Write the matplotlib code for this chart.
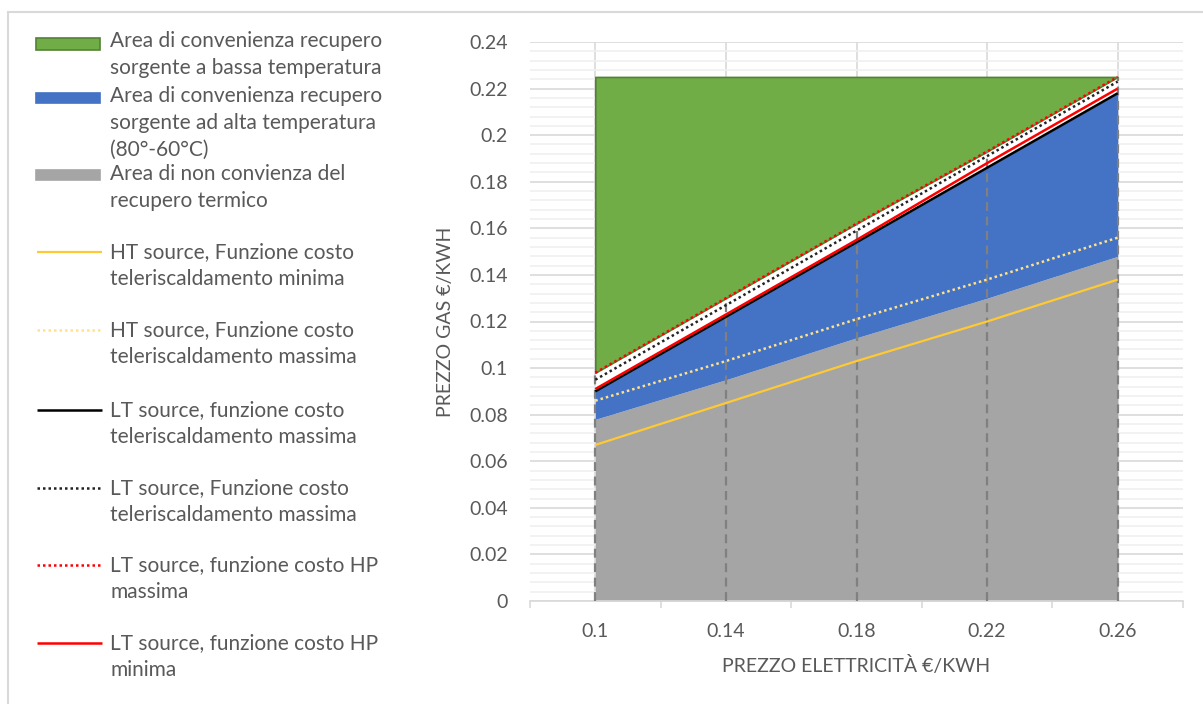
import numpy as np
import matplotlib
matplotlib.use("Agg")
import matplotlib.pyplot as plt
from matplotlib.lines import Line2D
from matplotlib.patches import Rectangle
from matplotlib.ticker import MultipleLocator, FixedLocator, NullFormatter

plt.rcParams['font.family'] = ['Lato', 'DejaVu Sans']

# prezzo elettricità (€/kWh) sulle categorie dell'asse x
prezzo_el = ['0.1', '0.14', '0.18', '0.22', '0.26']

# aree impilate
area_non_conv = [0.078, 0.095, 0.113, 0.130, 0.148]      # limite superiore area grigia
area_alta_temp = [0.090, 0.122, 0.154, 0.186, 0.218]     # limite superiore area blu
area_bassa_temp_top = [0.225, 0.225, 0.225, 0.225, 0.225]

# curve di costo
ht_tlr_min = [0.067, 0.085, 0.103, 0.120, 0.138]
ht_tlr_max = [0.086, 0.103, 0.121, 0.138, 0.156]
lt_tlr_max = [0.090, 0.122, 0.154, 0.186, 0.218]
lt_tlr_max_dot = [0.095, 0.127, 0.159, 0.191, 0.223]
lt_hp_max = [0.098, 0.130, 0.162, 0.193, 0.225]
lt_hp_min = [0.091, 0.123, 0.155, 0.188, 0.220]

TXT = '#595959'
GRID = '#D9D9D9'
GREEN, GREEN_EDGE = '#70AD47', '#548235'
BLUE = '#4472C4'
GRAY = '#A5A5A5'

W, H = 1203, 704
fig = plt.figure(figsize=(W / 100, H / 100), dpi=100)
ax = fig.add_axes([530 / W, 1 - 601 / H, (1183 - 530) / W, (601 - 42) / H])

x = np.arange(len(prezzo_el))
zero = np.zeros(len(x))

# aree
ax.fill_between(x, zero, area_non_conv, color=GRAY, lw=0, zorder=2)
ax.fill_between(x, area_non_conv, area_alta_temp, color=BLUE, lw=0, zorder=2)
ax.fill_between(x, area_alta_temp, lt_hp_max, color='white', lw=0, zorder=2)
ax.fill_between(x, lt_hp_max, area_bassa_temp_top, facecolor=GREEN,
                edgecolor=GREEN_EDGE, lw=1.2, zorder=2)

# linee di riferimento verticali
curves = [ht_tlr_min, ht_tlr_max, lt_tlr_max, lt_tlr_max_dot, lt_hp_max, lt_hp_min]
top = np.max(np.array(curves), axis=0)
ax.vlines(x, 0, top, colors='#808080', linestyles=(0, (4, 2.5)), lw=1.6, zorder=3)

dot = (0, (1, 1.2))
line_styles = [
    ('#FFC933', '-', 1.6),
    ('#FFE28A', dot, 1.8),
    ('black', '-', 1.8),
    ('#222222', dot, 1.8),
    ('#FF0000', dot, 1.8),
    ('#FF0000', '-', 1.8),
]
for yv, (c, ls, lw) in zip(curves, line_styles):
    ax.plot(x, yv, color=c, linestyle=ls, lw=lw, zorder=4, solid_capstyle='butt')

# assi
ax.set_xlim(-0.5, len(x) - 0.5)
ax.set_ylim(0, 0.24)
ax.xaxis.set_major_locator(FixedLocator(x))
ax.set_xticklabels(prezzo_el)
ax.xaxis.set_minor_locator(FixedLocator(np.arange(-0.5, len(x), 1.0)))
ax.xaxis.set_minor_formatter(NullFormatter())
ax.yaxis.set_minor_locator(MultipleLocator(0.004))
yt = np.round(np.arange(0, 0.2401, 0.02), 2)
ax.set_yticks(yt)
ax.set_yticklabels([f'{v:g}' for v in yt])

ax.tick_params(axis='x', which='major', length=0, pad=16, labelsize=14, colors=TXT)
ax.tick_params(axis='x', which='minor', length=5, width=1.2, color=GRID)
ax.tick_params(axis='y', which='both', length=0, pad=16, labelsize=14, colors=TXT)

ax.grid(axis='y', which='major', color=GRID, lw=1.2, zorder=0)
ax.grid(axis='y', which='minor', color='#F0F0F0', lw=1.2, zorder=0)
ax.grid(axis='x', which='major', color=GRID, lw=1.2, zorder=0)
ax.set_axisbelow(True)

for s in ['top', 'right', 'left']:
    ax.spines[s].set_visible(False)
ax.spines['bottom'].set_color(GRID)
ax.spines['bottom'].set_linewidth(1.2)

ax.text(-0.13, 0.5, 'PREZZO GAS €/KWH', transform=ax.transAxes, rotation=90,
        ha='center', va='center', fontsize=14, color=TXT)
ax.text(0.5, -0.1145, 'PREZZO ELETTRICITÀ €/KWH', transform=ax.transAxes,
        ha='center', va='center', fontsize=14, color=TXT)

# cornice del grafico
fig.add_artist(Line2D([8 / W, 1], [1 - 12 / H] * 2, color=GRID, lw=1.5))
fig.add_artist(Line2D([8 / W] * 2, [0, 1 - 12 / H], color=GRID, lw=1.5))

# legenda
def fx(px):
    return px / W

def fy(py):
    return 1 - py / H

legend_patches = [
    (GREEN, GREEN_EDGE, 44, 12, 54.5,
     'Area di convenienza recupero\nsorgente a bassa temperatura'),
    (BLUE, BLUE, 98, 10, 123,
     'Area di convenienza recupero\nsorgente ad alta temperatura\n(80°-60°C)'),
    (GRAY, GRAY, 175, 10, 187.5,
     'Area di non convienza del\nrecupero termico'),
]
for fc, ec, hy, hh, ty, lab in legend_patches:
    fig.add_artist(Rectangle((fx(36), fy(hy + hh / 2)), fx(100) - fx(36), hh / H,
                             facecolor=fc, edgecolor=ec, lw=1.2))
    fig.text(fx(110), fy(ty), lab, ha='left', va='center', fontsize=15,
             color=TXT, linespacing=1.42)

legend_lines = [
    'HT source, Funzione costo\nteleriscaldamento minima',
    'HT source, Funzione costo\nteleriscaldamento massima',
    'LT source, funzione costo\nteleriscaldamento massima',
    'LT source, Funzione costo\nteleriscaldamento massima',
    'LT source, funzione costo HP\nmassima',
    'LT source, funzione costo HP\nminima',
]
line_y = [252, 330, 410, 488, 565, 643]
for lab, hy, (c, ls, lw) in zip(legend_lines, line_y, line_styles):
    fig.add_artist(Line2D([fx(37), fx(102)], [fy(hy)] * 2, color=c,
                          linestyle=ls, lw=lw, solid_capstyle='butt'))
    fig.text(fx(110), fy(hy + 13.5), lab, ha='left', va='center', fontsize=15,
             color=TXT, linespacing=1.42)

fig.savefig('out.png', dpi=100)
